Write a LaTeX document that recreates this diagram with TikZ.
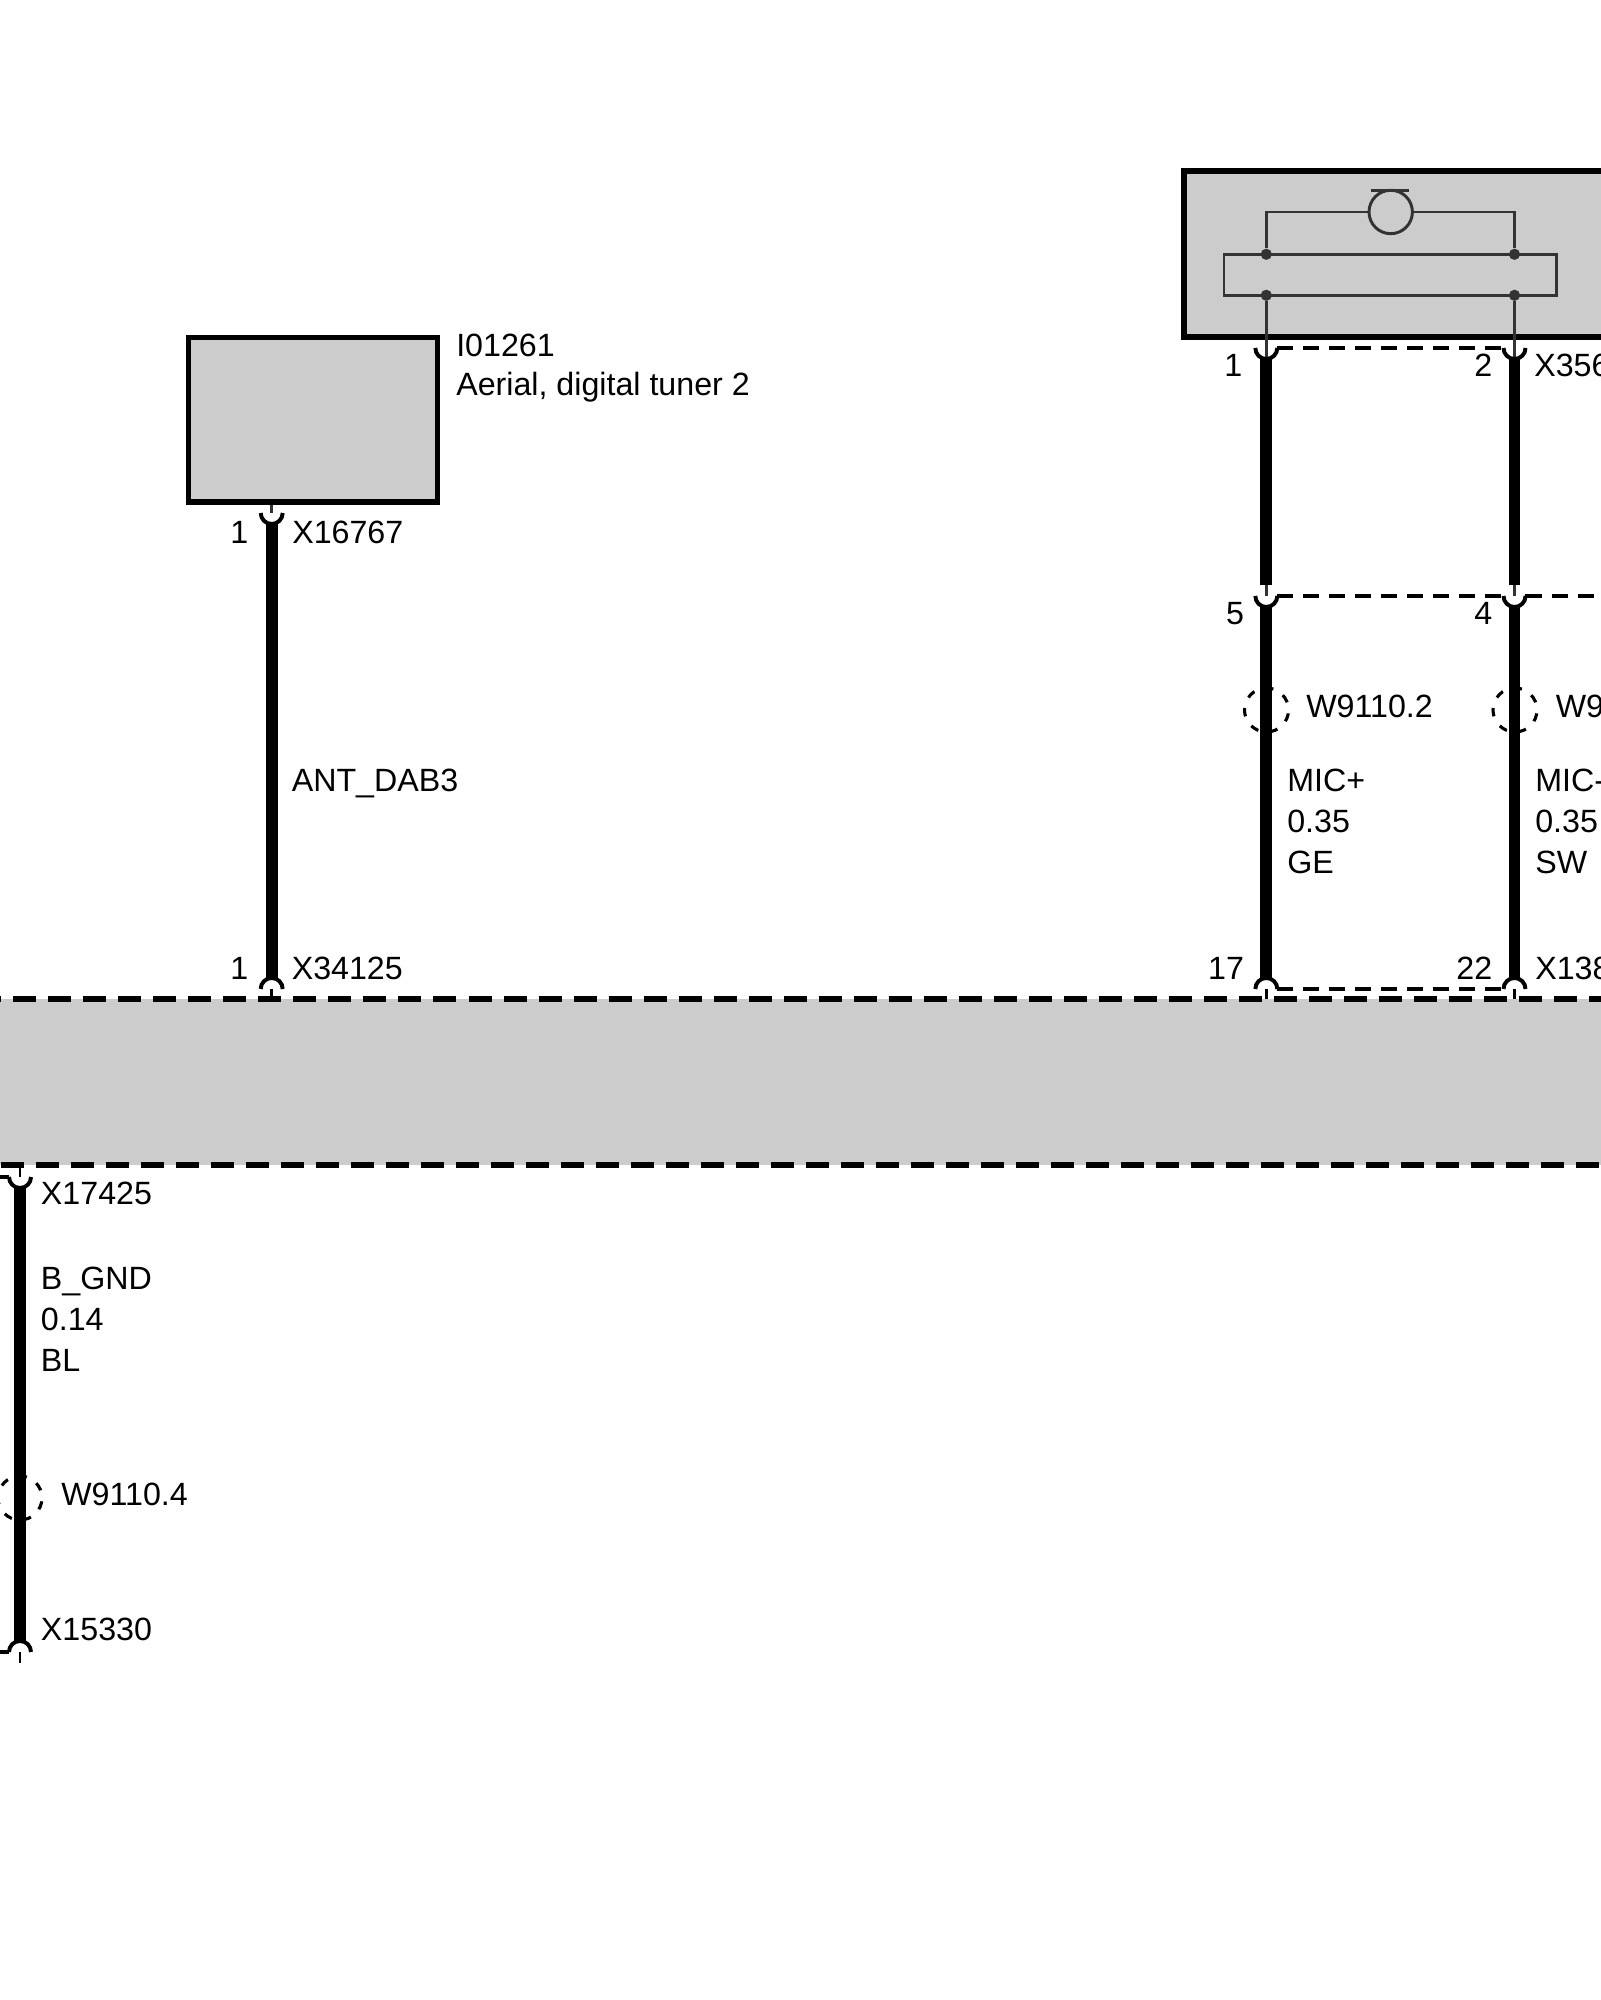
\documentclass[tikz,border=0pt]{standalone}
\usepackage{fontspec}
\setmainfont{Liberation Sans}
\usetikzlibrary{calc,shapes}

\definecolor{boxgrey}{HTML}{CCCCCC}
\definecolor{innerline}{HTML}{333333}

\tikzset{
  lbl/.style={anchor=base west,inner sep=0pt,font=\fontsize{22.9}{27}\selectfont},
  pinno/.style={anchor=base east,inner sep=0pt,font=\fontsize{22.9}{27}\selectfont},
  unit/.style={rectangle,draw=black,line width=3.9pt,fill=boxgrey,inner sep=0pt},
  wire/.style={line width=8.3pt,shorten <=7.8pt,shorten >=7.8pt},
  stub/.style={line width=2.1pt,color=innerline},
  inner/.style={line width=2.1pt,color=innerline},
  joint/.style={circle,fill=innerline,inner sep=0pt,minimum size=0.28cm},
  pincup/.style={line width=2.8pt},
  pinlink/.style={line width=2.2pt,dash pattern=on 11.4pt off 7.1pt,shorten <=7.8pt,shorten >=7.8pt},
  busline/.style={line width=4.2pt,dash pattern=on 16.36pt off 8.54pt},
  shield/.style={circle,draw,line width=2.2pt,inner sep=0pt,minimum size=1.1cm,dash pattern=on 6pt off 8.04pt,dash phase=8.5pt}
}

\begin{document}
\begin{tikzpicture}[x=0.025cm,y=0.025cm]

    \useasboundingbox (0,0) rectangle (1600,2000);

    % control unit band
    \node[fill=boxgrey,inner sep=0pt,minimum width=40.2cm,minimum height=4.15cm] (band) at (800,918) {};
    \coordinate (btl) at (-21.7,1001);
    \coordinate (btr) at (1620,1001);
    \coordinate (bbl) at (0.7,835);
    \coordinate (bbr) at (1620,835);
    \draw[busline] (btl) -- (btr);
    \draw[busline] (bbl) -- (bbr);

    % pins
    \coordinate (a1) at (271.7,1487);
    \coordinate (a2) at (271.7,1011);
    \coordinate (b1) at (1266.3,1652);
    \coordinate (b2) at (1266.3,1404);
    \coordinate (b3) at (1266.3,1011);
    \coordinate (c1) at (1514.5,1652);
    \coordinate (c2) at (1514.5,1404);
    \coordinate (c3) at (1514.5,1011);
    \coordinate (c4) at (1620,1404);
    \coordinate (d1) at (20,823);
    \coordinate (d2) at (20,348);
    \coordinate (d3) at (20,337);
    \coordinate (d4) at (-12,823);
    \coordinate (d5) at (-12,348);

    % aerial
    \node[unit,minimum width=6.225cm,minimum height=4.1125cm] (aerial) at (313,1580.25) {};
    \node[lbl] (aerialid) at (456,1643) {I01261};
    \node[lbl] (aerialname) at (456,1604.5) {Aerial, digital tuner 2};

    % microphone
    \node[unit,line width=4.3pt,minimum width=11.65cm,minimum height=4.15cm] (mic) at (1417,1746) {};
    \node[joint] (j1) at (1266.3,1745.7) {};
    \node[joint] (j2) at (1514.5,1745.7) {};
    \node[joint] (j3) at (1266.3,1704.7) {};
    \node[joint] (j4) at (1514.5,1704.7) {};
    \coordinate (r1) at (1224,1745.7);
    \coordinate (r2) at (1556.7,1704.7);
    \draw[inner] (r1) rectangle (r2);
    \node[circle,draw=innerline,line width=2.1pt,inner sep=0pt,minimum size=1.085cm] (capsule) at (1390.7,1788) {};
    \coordinate (m1) at (1370.7,1809.3);
    \coordinate (m2) at (1409,1809.3);
    \draw[inner] (m1) -- (m2);
    \draw[inner] (j1) |- (capsule);
    \draw[inner] (j2) |- (capsule);
    \draw[stub] (j3) -- (b1);
    \draw[stub] (j4) -- (c1);

    % shields
    \node[shield] (s1) at (1266.5,1290) {};
    \node[shield] (s2) at (1515,1290) {};
    \node[shield] (s3) at (20,502) {};

    % thin parts of the wires
    \draw[stub] (a1|-aerial.south) -- (a1);
    \draw[stub,color=black] (a2) -- (a2|-band.north);
    \draw[stub] (b1) -- (b2);
    \draw[stub] (c1) -- (c2);
    \draw[stub,color=black] (b3) -- (b3|-band.north);
    \draw[stub,color=black] (c3) -- (c3|-band.north);
    \draw[stub,color=black] (d1|-band.south) -- (d1);
    \draw[stub,color=black] (d2) -- (d3);

    % wires
    \draw[wire] (a1) -- (a2);
    \draw[wire] (b1) -- (b2);
    \draw[wire] (b2) -- (b3);
    \draw[wire] (c1) -- (c2);
    \draw[wire] (c2) -- (c3);
    \draw[wire] (d1) -- (d2);

    % connector cups
    \foreach \p in {a1,b1,b2,c1,c2,d1}
      \draw[pincup] ($(\p)+(-11,0)$) arc (180:360:11);
    \foreach \p in {a2,b3,c3,d2}
      \draw[pincup] ($(\p)+(11,0)$) arc (0:180:11);

    % connector housings
    \draw[pinlink] (b1) -- (c1);
    \draw[pinlink] (b2) -- (c2);
    \draw[pinlink] (c2) -- (c4);
    \draw[pinlink] (b3) -- (c3);
    \draw[pinlink,dash pattern=] (d4) -- (d1);
    \draw[pinlink,dash pattern=] (d5) -- (d2);

    % labels
    \node[pinno] (t1) at (248.5,1456) {1};
    \node[lbl] (t2) at (292,1456) {X16767};
    \node[lbl] (t3) at (291.5,1208.3) {ANT\_DAB3};
    \node[pinno] (t4) at (248.5,1020) {1};
    \node[lbl] (t5) at (291.5,1020) {X34125};

    \node[pinno] (t6) at (1242.5,1623.3) {1};
    \node[pinno] (t7) at (1492.5,1623.3) {2};
    \node[lbl] (t8) at (1534,1623.3) {X356};
    \node[pinno] (t9) at (1244.2,1375) {5};
    \node[pinno] (t10) at (1492.5,1375) {4};
    \node[lbl] (t11) at (1306,1282) {W9110.2};
    \node[lbl] (t12) at (1555.5,1282) {W9};
    \node[lbl] (t13) at (1287,1208.3) {MIC+};
    \node[lbl] (t14) at (1287,1167.7) {0.35};
    \node[lbl] (t15) at (1287,1126.7) {GE};
    \node[lbl] (t16) at (1535,1208.3) {MIC-};
    \node[lbl] (t17) at (1535,1167.7) {0.35};
    \node[lbl] (t18) at (1535,1126.7) {SW};
    \node[pinno] (t19) at (1244.2,1020) {17};
    \node[pinno] (t20) at (1492.5,1020) {22};
    \node[lbl] (t21) at (1535,1020) {X138};

    \node[lbl] (t22) at (40.7,795) {X17425};
    \node[lbl] (t23) at (40.7,710.6) {B\_GND};
    \node[lbl] (t24) at (40.7,669.5) {0.14};
    \node[lbl] (t25) at (40.7,628.5) {BL};
    \node[lbl] (t26) at (61,494) {W9110.4};
    \node[lbl] (t27) at (40.7,359) {X15330};

\end{tikzpicture}
\end{document}
